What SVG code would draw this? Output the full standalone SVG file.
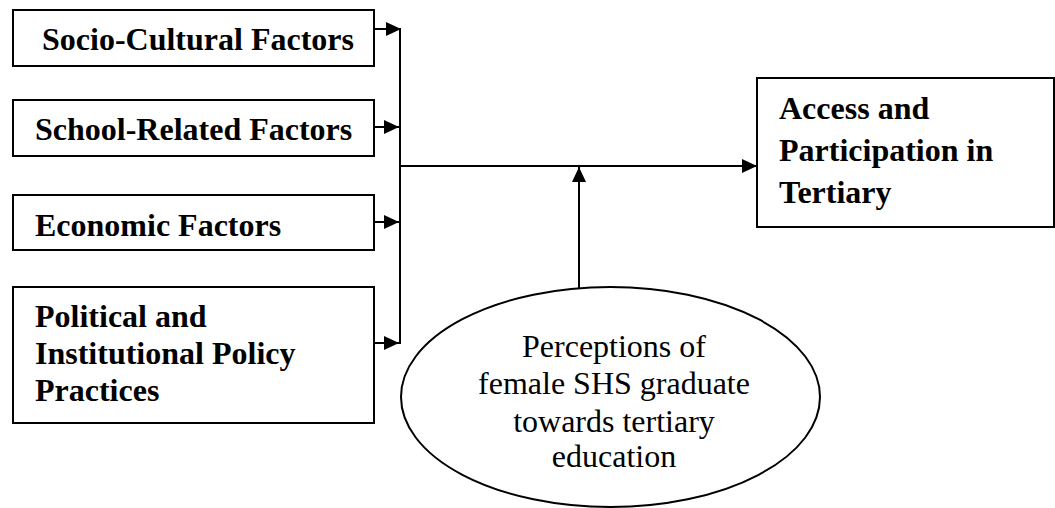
<svg xmlns="http://www.w3.org/2000/svg" width="1055" height="508" viewBox="0 0 1055 508">
<style>
.box{fill:#fff;stroke:#000;stroke-width:2}
.b{font-family:"Liberation Serif","Times New Roman",serif;font-weight:bold;font-size:32px;fill:#000}
.r{font-family:"Liberation Serif","Times New Roman",serif;font-size:32px;fill:#000;text-anchor:middle}
.ln{stroke:#000;stroke-width:2;fill:none}
</style>
<defs>
<marker id="ah" markerWidth="15" markerHeight="14" refX="15" refY="7" orient="auto" markerUnits="userSpaceOnUse">
<path d="M0,0 L15,7 L0,14 Z" fill="#000"/>
</marker>
</defs>
<rect width="1055" height="508" fill="#fff"/>
<g id="socio">
<rect class="box" x="13" y="10" width="361" height="56"/>
<text class="b" x="42" y="50">Socio-Cultural Factors</text>
</g>
<g id="school">
<rect class="box" x="13" y="100" width="361" height="56"/>
<text class="b" x="35" y="140">School-Related Factors</text>
</g>
<g id="economic">
<rect class="box" x="13" y="195" width="361" height="55"/>
<text class="b" x="35" y="236">Economic Factors</text>
</g>
<g id="political">
<rect class="box" x="13" y="287" width="361" height="136"/>
<text class="b" x="35" y="327">Political and</text>
<text class="b" x="35" y="364">Institutional Policy</text>
<text class="b" x="35" y="401">Practices</text>
</g>
<g id="access">
<rect class="box" x="757" y="78" width="297" height="149"/>
<text class="b" x="779" y="119">Access and</text>
<text class="b" x="779" y="161">Participation in</text>
<text class="b" x="779" y="203">Tertiary</text>
</g>
<g id="perceptions">
<ellipse class="box" cx="610.5" cy="397" rx="209.5" ry="110"/>
<text class="r" x="614" y="357">Perceptions of</text>
<text class="r" x="614" y="394">female SHS graduate</text>
<text class="r" x="614" y="432">towards tertiary</text>
<text class="r" x="614" y="467">education</text>
</g>
<g id="connectors">
<line class="ln" x1="400" y1="28" x2="400" y2="344"/>
<line class="ln" x1="374" y1="29" x2="401" y2="29" marker-end="url(#ah)"/>
<line class="ln" x1="374" y1="127" x2="399" y2="127" marker-end="url(#ah)"/>
<line class="ln" x1="374" y1="222" x2="399" y2="222" marker-end="url(#ah)"/>
<line class="ln" x1="374" y1="343" x2="399" y2="343" marker-end="url(#ah)"/>
<line class="ln" x1="400" y1="166" x2="757" y2="166" marker-end="url(#ah)"/>
<line class="ln" x1="579" y1="288" x2="579" y2="167" marker-end="url(#ah)"/>
</g>
</svg>
